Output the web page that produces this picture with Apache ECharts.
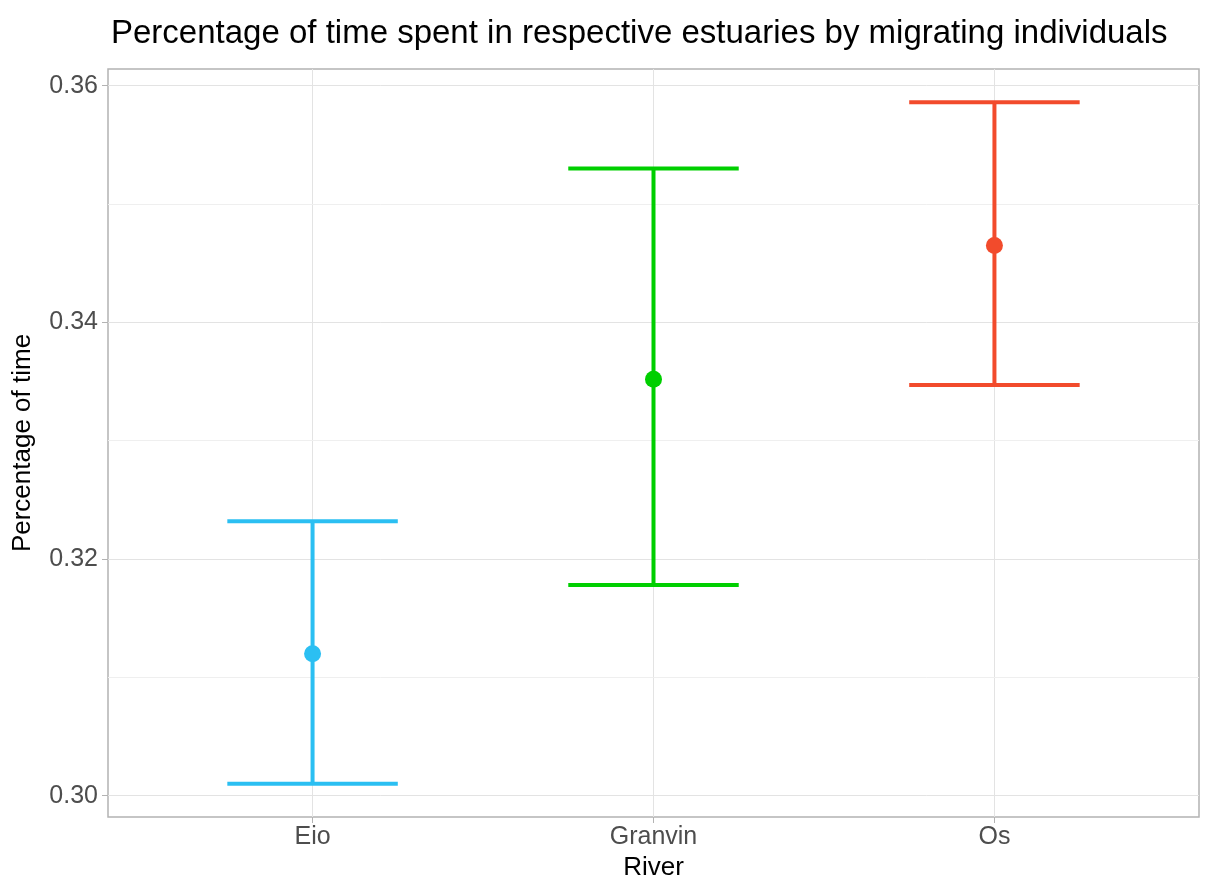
<!DOCTYPE html>
<html><head><meta charset="utf-8">
<script src="https://cdn.jsdelivr.net/npm/echarts@6/dist/echarts.min.js"></script>
<style>html,body{margin:0;padding:0;background:#fff}#c{width:1209px;height:875px}</style>
</head><body><div id="c"></div>
<script>
const rivers = ['Eio', 'Granvin', 'Os'];
const means = [0.3120, 0.3352, 0.3465];
const lower = [0.3010, 0.3178, 0.3347];
const upper = [0.3232, 0.3530, 0.3586];
const colors = ['#2BBFF2', '#00CF00', '#F24B2C'];
const yTicks = [0.30, 0.32, 0.34, 0.36];
const yMinor = [0.31, 0.33, 0.35];

const chart = echarts.init(document.getElementById('c'));
const font = 'Liberation Sans, Arial, sans-serif';
chart.setOption({
  animation: false,
  title: {text: 'Percentage of time spent in respective estuaries by migrating individuals',
    left: 106, top: 12, textStyle: {fontFamily: font, fontSize: 33, fontWeight: 'normal', color: '#000'}},
  grid: {left: 108, right: 10, top: 69, bottom: 58, outerBoundsMode: 'none', containLabel: false,
    show: true, borderColor: '#b3b3b3', borderWidth: 1.5, backgroundColor: '#fff'},
  xAxis: {type: 'value', min: 0.4, max: 3.6,
    name: 'River', nameLocation: 'middle', nameGap: 36,
    nameTextStyle: {fontFamily: font, fontSize: 26, color: '#000'},
    axisLine: {show: false},
    axisTick: {show: true, length: 6, lineStyle: {color: '#b3b3b3', width: 1}, customValues: [1, 2, 3]},
    axisLabel: {customValues: [1, 2, 3], formatter: v => rivers[Math.round(v) - 1], fontFamily: font, fontSize: 25, color: '#4d4d4d', margin: 8},
    splitLine: {show: true, lineStyle: {color: '#e3e3e3', width: 1}}
  },
  yAxis: {type: 'value', min: 0.2982, max: 0.36141,
    name: 'Percentage of time', nameLocation: 'middle', nameGap: 72,
    nameTextStyle: {fontFamily: font, fontSize: 26, color: '#000'},
    axisLine: {show: false},
    axisTick: {show: true, length: 6, lineStyle: {color: '#b3b3b3', width: 1}, customValues: yTicks},
    axisLabel: {customValues: yTicks, formatter: v => v.toFixed(2), fontFamily: font, fontSize: 25, color: '#4d4d4d', margin: 10},
    splitLine: {show: true, lineStyle: {color: '#e3e3e3', width: 1}}
  },
  series: [
    {type: 'line', data: [], silent: true, z: 0,
      markLine: {silent: true, symbol: 'none', label: {show: false}, z: 0,
        lineStyle: {color: '#efefef', width: 1, type: 'solid'},
        data: yMinor.map(v => ({yAxis: v}))}},
    {type: 'custom', silent: true, z: 3,
      data: rivers.map((r, i) => [i + 1, lower[i], upper[i], i]),
      renderItem: function (params, api) {
        const x = api.value(0), lo = api.value(1), hi = api.value(2), idx = api.value(3);
        const pLo = api.coord([x, lo]), pHi = api.coord([x, hi]);
        const cl = api.coord([x - 0.25, hi]), cr = api.coord([x + 0.25, hi]);
        const style = {stroke: colors[idx], lineWidth: 4, fill: null};
        return {type: 'group', children: [
          {type: 'line', shape: {x1: pLo[0], y1: pLo[1], x2: pHi[0], y2: pHi[1]}, style: style},
          {type: 'line', shape: {x1: cl[0], y1: pHi[1], x2: cr[0], y2: pHi[1]}, style: style},
          {type: 'line', shape: {x1: cl[0], y1: pLo[1], x2: cr[0], y2: pLo[1]}, style: style}
        ]};
      }},
    {type: 'scatter', silent: true, symbol: 'circle', symbolSize: 17, z: 5,
      data: rivers.map((r, i) => ({value: [i + 1, means[i]], itemStyle: {color: colors[i], opacity: 1}}))}
  ]
});
</script></body></html>
